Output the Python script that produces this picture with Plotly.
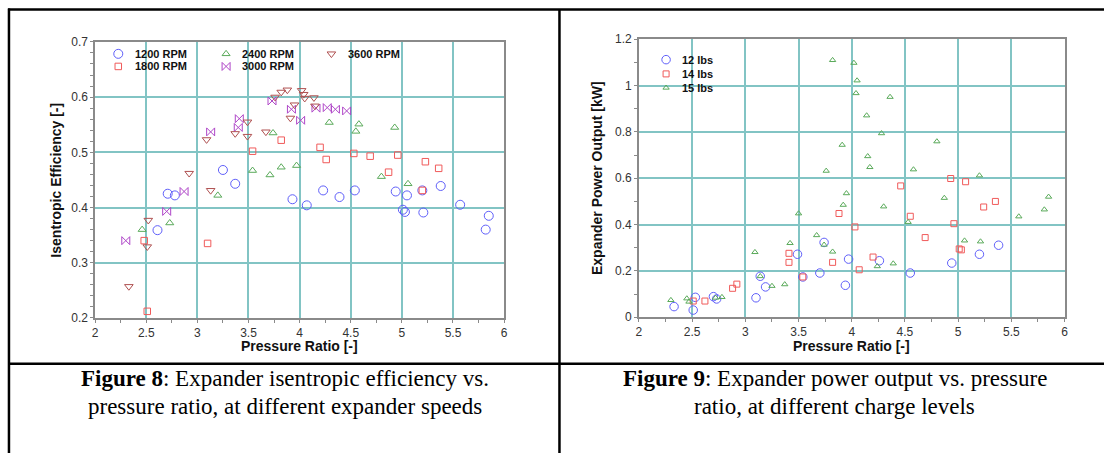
import plotly.graph_objects as go

# ---------------- data: Figure 8 (isentropic efficiency) ----------------
rpm1200_x = [2.61, 2.71, 2.78, 3.25, 3.37, 3.93, 4.07, 4.23, 4.39, 4.54, 4.94, 5.01, 5.03, 5.05, 5.20, 5.21, 5.38, 5.57, 5.82, 5.85]
rpm1200_y = [0.359, 0.425, 0.422, 0.468, 0.443, 0.415, 0.404, 0.431, 0.419, 0.431, 0.429, 0.396, 0.392, 0.422, 0.431, 0.391, 0.439, 0.405, 0.360, 0.385]

rpm1800_x = [2.48, 2.51, 3.10, 3.54, 3.82, 4.20, 4.26, 4.53, 4.69, 4.87, 4.96, 5.20, 5.23, 5.36]
rpm1800_y = [0.340, 0.212, 0.335, 0.502, 0.522, 0.509, 0.487, 0.498, 0.493, 0.464, 0.495, 0.431, 0.483, 0.471]

rpm2400_x = [2.46, 2.73, 3.20, 3.54, 3.71, 3.74, 3.82, 3.97, 4.29, 4.55, 4.58, 4.80, 4.93, 5.06]
rpm2400_y = [0.360, 0.372, 0.422, 0.467, 0.459, 0.535, 0.473, 0.476, 0.554, 0.538, 0.551, 0.456, 0.545, 0.443]

rpm3000_x = [2.30, 2.70, 2.87, 3.13, 3.40, 3.41, 3.73, 3.92, 4.01, 4.16, 4.27, 4.35, 4.46]
rpm3000_y = [0.340, 0.393, 0.429, 0.537, 0.545, 0.561, 0.593, 0.578, 0.558, 0.580, 0.581, 0.578, 0.575]

rpm3600_x = [2.33, 2.51, 2.52, 2.92, 3.09, 3.13, 3.37, 3.49, 3.49, 3.67, 3.76, 3.82, 3.88, 3.91, 3.95, 4.02, 4.04, 4.05, 4.14, 4.15]
rpm3600_y = [0.257, 0.329, 0.377, 0.462, 0.523, 0.431, 0.534, 0.529, 0.555, 0.537, 0.600, 0.609, 0.613, 0.562, 0.586, 0.612, 0.605, 0.598, 0.599, 0.584]

# ---------------- data: Figure 9 (power output) ----------------
lbs12_x = [2.33, 2.51, 2.53, 2.70, 2.73, 3.10, 3.14, 3.19, 3.49, 3.54, 3.70, 3.74, 3.94, 3.97, 4.26, 4.55, 4.94, 5.20, 5.38]
lbs12_y = [0.046, 0.031, 0.086, 0.089, 0.079, 0.084, 0.177, 0.131, 0.272, 0.174, 0.191, 0.323, 0.138, 0.251, 0.244, 0.191, 0.234, 0.272, 0.311]

lbs14_x = [2.51, 2.62, 2.88, 2.92, 3.41, 3.41, 3.54, 3.82, 3.88, 4.03, 4.07, 4.20, 4.46, 4.55, 4.69, 4.93, 4.96, 5.01, 5.03, 5.07, 5.24, 5.35]
lbs14_y = [0.070, 0.070, 0.125, 0.143, 0.237, 0.276, 0.174, 0.237, 0.448, 0.390, 0.205, 0.260, 0.567, 0.436, 0.344, 0.599, 0.404, 0.295, 0.291, 0.585, 0.476, 0.500]

lbs15_x = [2.30, 2.45, 2.47, 2.72, 2.78, 3.09, 3.14, 3.25, 3.37, 3.42, 3.50, 3.67, 3.74, 3.76, 3.82, 3.82,
           3.91, 3.92, 3.95, 4.02, 4.04, 4.05, 4.14, 4.15, 4.17, 4.24, 4.28, 4.30, 4.36, 4.39, 4.53, 4.58,
           4.80, 4.87, 5.06, 5.20, 5.21, 5.57, 5.81, 5.85]
lbs15_y = [0.074, 0.081, 0.067, 0.084, 0.087, 0.281, 0.177, 0.135, 0.142, 0.320, 0.448, 0.354, 0.313, 0.632, 0.283, 1.110,
           0.744, 0.485, 0.535, 1.098, 0.967, 1.022, 0.871, 0.695, 0.648, 0.220, 0.794, 0.478, 0.951, 0.232, 0.411, 0.638,
           0.759, 0.515, 0.331, 0.612, 0.327, 0.435, 0.465, 0.520]

left_x_ticks = [2, 2.5, 3, 3.5, 4, 4.5, 5, 5.5, 6]
left_y_ticks = [0.2, 0.3, 0.4, 0.5, 0.6, 0.7]
right_y_ticks = [0, 0.2, 0.4, 0.6, 0.8, 1, 1.2]

caption8 = ["<b>Figure 8</b>: Expander isentropic efficiency vs.", "pressure ratio, at different expander speeds"]
caption9 = ["<b>Figure 9</b>: Expander power output vs. pressure", "ratio, at different charge levels"]

# ---------------- styling ----------------
W, H = 1108, 460
BLUE = "rgb(95,95,250)"
RED = "rgb(240,90,90)"
GREEN = "rgb(90,170,90)"
PURPLE = "rgb(175,70,200)"
BROWN = "rgb(175,80,80)"
GRID = "rgb(130,196,196)"
AX = "#8a8a8a"
SANS = "Liberation Sans, Arial, sans-serif"
SERIF = "Liberation Serif, Times New Roman, serif"
TICKFONT = dict(family=SANS, size=12, color="#333")

def fx(p):
    return p / W

def fy(p):
    return 1 - p / H

left_series = [
    ("1200 RPM", rpm1200_x, rpm1200_y, "circle-open", 9, BLUE),
    ("1800 RPM", rpm1800_x, rpm1800_y, "square-open", 6.5, RED),
    ("2400 RPM", rpm2400_x, rpm2400_y, "triangle-up-open", 7, GREEN),
    ("3000 RPM", rpm3000_x, rpm3000_y, "bowtie-open", 8, PURPLE),
    ("3600 RPM", rpm3600_x, rpm3600_y, "triangle-down-open", 7.5, BROWN),
]
right_series = [
    ("12 lbs", lbs12_x, lbs12_y, "circle-open", 8.5, BLUE),
    ("14 lbs", lbs14_x, lbs14_y, "square-open", 6, RED),
    ("15 lbs", lbs15_x, lbs15_y, "triangle-up-open", 5.5, GREEN),
]

fig = go.Figure()
for name, xs, ys, sym, size, col in left_series:
    fig.add_trace(go.Scatter(x=xs, y=ys, mode="markers", name=name, xaxis="x", yaxis="y",
                             showlegend=False, cliponaxis=False,
                             marker=dict(symbol=sym, size=size, color=col, line=dict(width=1, color=col))))
for name, xs, ys, sym, size, col in right_series:
    fig.add_trace(go.Scatter(x=xs, y=ys, mode="markers", name=name, xaxis="x2", yaxis="y2",
                             showlegend=False, cliponaxis=False,
                             marker=dict(symbol=sym, size=size, color=col, line=dict(width=1, color=col))))

# ---------------- manual legends (pixel overlay axis) ----------------
LEG_FONT = dict(family=SANS, size=11, color="#111")
left_leg_pos = [(116, 48.3), (116, 61.3), (224.5, 48.3), (224.5, 61.3), (330.5, 48.3)]
right_leg_pos = [(667.3, 54.3), (667.3, 69), (667.3, 83.3)]
annotations = []
for (name, _, _, sym, size, col), (lx, ly) in list(zip(left_series, left_leg_pos)) + list(zip(right_series, right_leg_pos)):
    fig.add_trace(go.Scatter(x=[lx], y=[ly], mode="markers", xaxis="x5", yaxis="y5", showlegend=False,
                             hoverinfo="skip", cliponaxis=False,
                             marker=dict(symbol=sym, size=size, color=col, line=dict(width=1, color=col))))
    annotations.append(dict(x=fx(lx + 14.5), y=fy(ly), xref="paper", yref="paper", text="<b>%s</b>" % name,
                            xanchor="left", yanchor="middle", showarrow=False, font=LEG_FONT))

# axis titles
TITLE_FONT = dict(family=SANS, size=14, color="#111")
annotations += [
    dict(x=fx(298.5), y=fy(350), text="<b>Pressure Ratio [-]</b>", font=TITLE_FONT),
    dict(x=fx(854), y=fy(350), text="<b>Pressure Ratio [-]</b>", font=TITLE_FONT),
    dict(x=fx(53), y=fy(178.4), text="<b>Isentropic Efficiency [-]</b>", font=TITLE_FONT, textangle=-90),
    dict(x=fx(598.5), y=fy(176.7), text="<b>Expander Power Output [kW]</b>", font=TITLE_FONT, textangle=-90),
]
CAP_FONT = dict(family=SERIF, size=23, color="#000")
for i, line in enumerate(caption8):
    annotations.append(dict(x=fx(284), y=fy(383 + 29 * i), text=line, font=CAP_FONT))
for i, line in enumerate(caption9):
    annotations.append(dict(x=fx(837), y=fy(383 + 29 * i), text=line, font=CAP_FONT))
for a in annotations:
    a.setdefault("xref", "paper")
    a.setdefault("yref", "paper")
    a.setdefault("showarrow", False)
    a.setdefault("xanchor", "center")
    a.setdefault("yanchor", "middle")

# ---------------- axes ----------------
def main_x(domain, anchor):
    return dict(domain=domain, anchor=anchor, range=[2, 6], tickvals=left_x_ticks,
                showgrid=True, gridcolor=GRID, gridwidth=1.5, zeroline=False,
                showline=True, linecolor=AX, linewidth=1.5, mirror=True,
                ticks="outside", ticklen=3, tickcolor=AX, tickfont=TICKFONT,
                minor=dict(dtick=0.25, tick0=2, ticks="outside", ticklen=3, tickcolor=AX, showgrid=False))

def main_y(domain, anchor, rng, tickvals, minor_dtick):
    return dict(domain=domain, anchor=anchor, range=rng, tickvals=tickvals,
                showgrid=True, gridcolor=GRID, gridwidth=1.5, zeroline=False,
                showline=True, linecolor=AX, linewidth=1.5, mirror=True,
                ticks="outside", ticklen=3, tickcolor=AX, tickfont=TICKFONT,
                minor=dict(dtick=minor_dtick, tick0=0, ticks="outside", ticklen=3, tickcolor=AX, showgrid=False))

def over_x(over, anchor):
    return dict(overlaying=over, anchor=anchor, side="top", range=[2, 6], dtick=0.25, tick0=2,
                ticks="inside", ticklen=4, tickcolor=AX, showticklabels=False,
                showgrid=False, zeroline=False, showline=False)

def over_y(over, anchor, rng, dtick):
    return dict(overlaying=over, anchor=anchor, side="right", range=rng, dtick=dtick, tick0=0,
                ticks="inside", ticklen=4, tickcolor=AX, showticklabels=False,
                showgrid=False, zeroline=False, showline=False)

Lx = [fx(92.7), fx(504.3)]
Ly = [fy(320.7), fy(36)]
Rx = [fx(640), fx(1068.3)]
Ry = [fy(320), fy(33.3)]

fig.update_layout(
    width=W, height=H, margin=dict(l=0, r=0, t=0, b=0),
    paper_bgcolor="white", plot_bgcolor="rgba(0,0,0,0)", showlegend=False,
    xaxis=main_x(Lx, "y"),
    yaxis=main_y(Ly, "x", [0.2, 0.7], left_y_ticks, 0.02),
    xaxis2=main_x(Rx, "y2"),
    yaxis2=main_y(Ry, "x2", [0, 1.2], right_y_ticks, 0.1),
    xaxis3=over_x("x", "y"),
    yaxis3=over_y("y", "x", [0.2, 0.7], 0.02),
    xaxis4=over_x("x2", "y2"),
    yaxis4=over_y("y2", "x2", [0, 1.2], 0.1),
    xaxis5=dict(domain=[0, 1], anchor="y5", range=[0, W], visible=False, fixedrange=True),
    yaxis5=dict(domain=[0, 1], anchor="x5", range=[H, 0], visible=False, fixedrange=True),
    annotations=annotations,
)

# table borders
LINE = dict(color="black", width=2.5)
for x0, y0, x1, y1 in [(5, 2.5, 1108, 2.5), (6, 1.5, 6, 460), (560, 2, 560, 460), (6, 368, 1108, 368)]:
    fig.add_shape(type="line", xref="paper", yref="paper", x0=fx(x0), y0=fy(y0), x1=fx(x1), y1=fy(y1), line=LINE)

fig.write_html("out.html")
